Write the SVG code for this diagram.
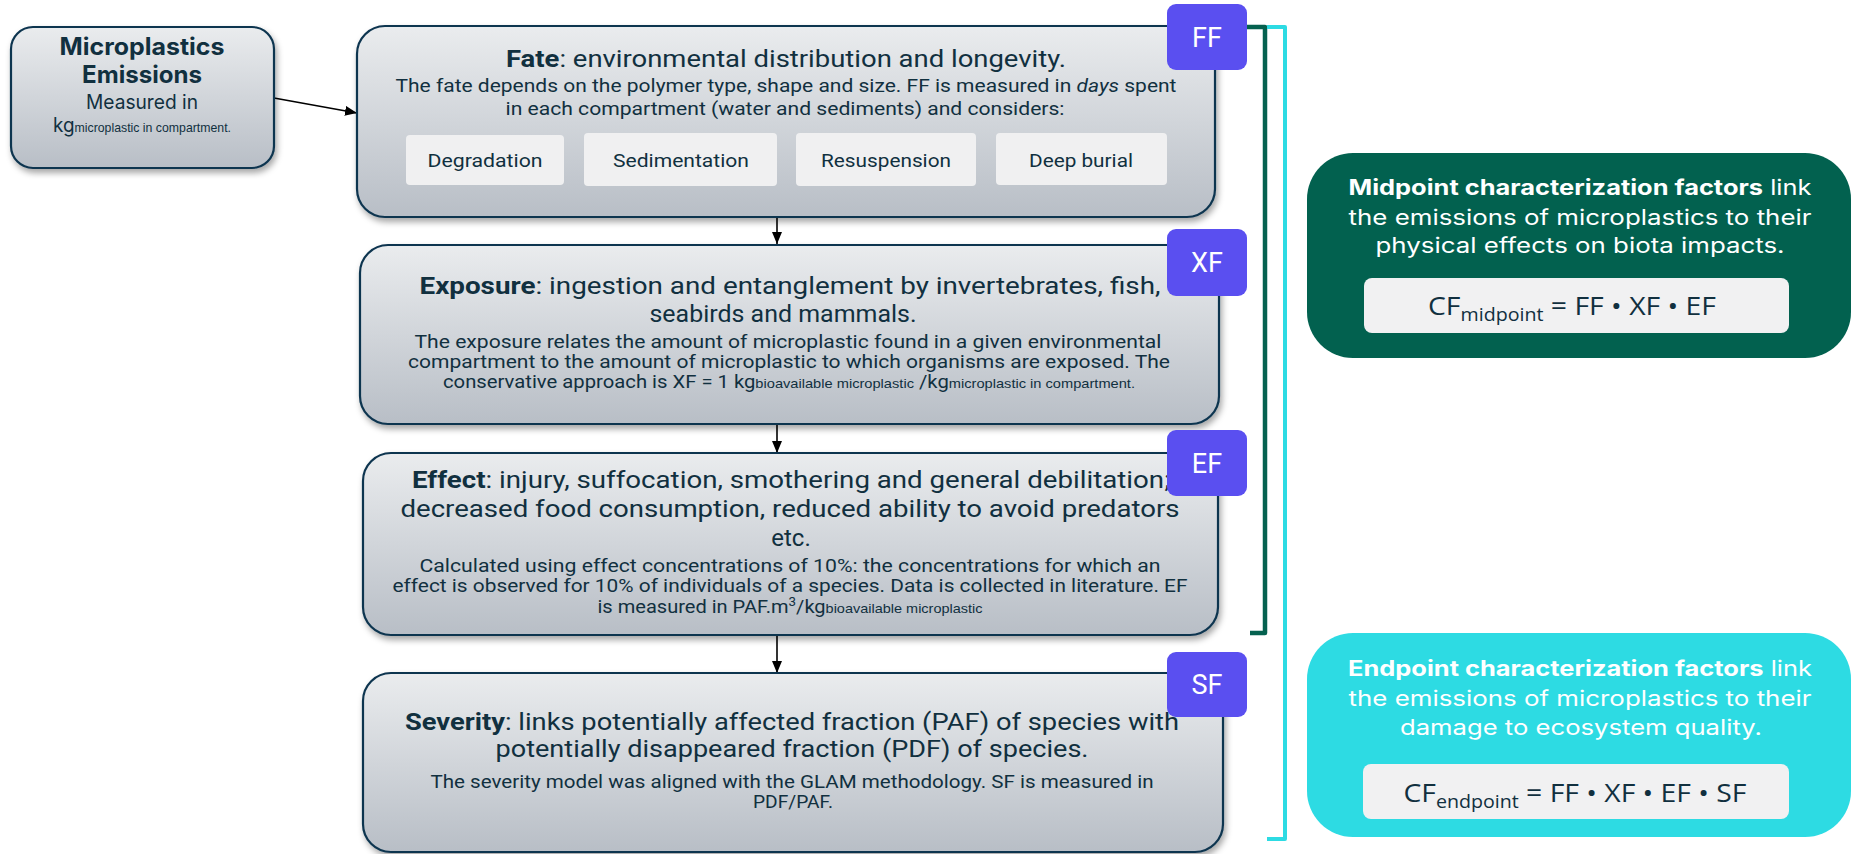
<svg xmlns="http://www.w3.org/2000/svg" width="1852" height="854" viewBox="0 0 1852 854">
<style>
.box{fill:url(#g);stroke:#0e3550;stroke-width:2.2;filter:url(#sh)}
.badge{fill:#5a4ff0}
.btxt{font-family:Roboto,"Liberation Sans",sans-serif;font-size:27px;fill:#fff;text-anchor:middle}
.t{font-family:Roboto,"Liberation Sans",sans-serif;fill:#11303f;text-anchor:middle}
.ti{font-size:24px}
.bd{font-size:18px}
.sub{font-family:"Liberation Sans",Arial,sans-serif;font-size:13px}
.chip{fill:#f0f0f1}
.w{font-family:Inter,"Liberation Sans",sans-serif;font-size:21px;fill:#fff;text-anchor:middle}
.f{font-family:"Open Sans",Roboto,sans-serif;font-size:26px;fill:#11303f;text-anchor:middle}
.em{font-family:Inter,"Liberation Sans",sans-serif;fill:#11303f;text-anchor:middle}
.conn{stroke:#000;stroke-width:1.6;fill:none;marker-end:url(#ah)}
</style>
<defs>
<linearGradient id="g" x1="0" y1="0" x2="0" y2="1">
<stop offset="0" stop-color="#eaecee"/>
<stop offset="1" stop-color="#b8bec6"/>
</linearGradient>
<filter id="sh" x="-5%" y="-10%" width="110%" height="125%">
<feDropShadow dx="2" dy="4" stdDeviation="3" flood-color="#000" flood-opacity="0.35"/>
</filter>
<marker id="ah" viewBox="0 0 12 10" refX="12" refY="5" markerWidth="12" markerHeight="10" markerUnits="userSpaceOnUse" orient="auto">
<path d="M0,0 L12,5 L0,10 z" fill="#000"/>
</marker>
</defs>

<g id="connectors">
<line class="conn" x1="274" y1="98" x2="357" y2="113"/>
<line class="conn" x1="777" y1="217" x2="777" y2="244"/>
<line class="conn" x1="777" y1="424" x2="777" y2="453"/>
<line class="conn" x1="777" y1="635" x2="777" y2="673"/>
<path d="M1247,27 H1265 V633 H1250" fill="none" stroke="#05614f" stroke-width="4.5" stroke-linejoin="round"/>
<path d="M1267,27 H1285 V839 H1267" fill="none" stroke="#2ddbe3" stroke-width="4" stroke-linejoin="round"/>
</g>

<g id="emissions">
<rect class="box" x="11" y="27" width="263" height="141" rx="22"/>
<text class="em" x="142" y="55" font-size="24" font-weight="bold" textLength="165" lengthAdjust="spacingAndGlyphs">Microplastics</text>
<text class="em" x="142" y="83" font-size="24" font-weight="bold" textLength="120" lengthAdjust="spacingAndGlyphs">Emissions</text>
<text class="em" x="142" y="109" font-size="20" textLength="112" lengthAdjust="spacingAndGlyphs">Measured in</text>
<text class="em" x="142" y="132" font-size="20" textLength="178" lengthAdjust="spacingAndGlyphs">kg<tspan class="sub">microplastic in compartment.</tspan></text>
</g>

<g id="fate">
<rect class="box" x="357" y="26" width="858" height="191" rx="28"/>
<text class="t ti" x="786" y="67" textLength="560" lengthAdjust="spacingAndGlyphs"><tspan font-weight="bold">Fate</tspan>: environmental distribution and longevity.</text>
<text class="t bd" x="786" y="92" textLength="781" lengthAdjust="spacingAndGlyphs">The fate depends on the polymer type, shape and size. FF is measured in <tspan font-style="italic">days</tspan> spent</text>
<text class="t bd" x="785" y="115" textLength="559" lengthAdjust="spacingAndGlyphs">in each compartment (water and sediments) and considers:</text>
<rect class="chip" x="406" y="135" width="158" height="50" rx="4"/>
<rect class="chip" x="584" y="133" width="193" height="53" rx="4"/>
<rect class="chip" x="796" y="133" width="180" height="53" rx="4"/>
<rect class="chip" x="996" y="133" width="171" height="52" rx="4"/>
<text class="t bd" x="485" y="167" textLength="115" lengthAdjust="spacingAndGlyphs">Degradation</text>
<text class="t bd" x="681" y="167" textLength="136" lengthAdjust="spacingAndGlyphs">Sedimentation</text>
<text class="t bd" x="886" y="167" textLength="130" lengthAdjust="spacingAndGlyphs">Resuspension</text>
<text class="t bd" x="1081" y="167" textLength="104" lengthAdjust="spacingAndGlyphs">Deep burial</text>
</g>
<g id="ff">
<rect class="badge" x="1167" y="4" width="80" height="66" rx="9"/>
<text class="btxt" x="1207" y="47">FF</text>
</g>

<g id="exposure">
<rect class="box" x="360" y="245" width="859" height="179" rx="28"/>
<text class="t ti" x="790" y="294" textLength="741" lengthAdjust="spacingAndGlyphs"><tspan font-weight="bold">Exposure</tspan>: ingestion and entanglement by invertebrates, fish,</text>
<text class="t ti" x="783" y="322" textLength="267" lengthAdjust="spacingAndGlyphs">seabirds and mammals.</text>
<text class="t bd" x="788" y="348" textLength="747" lengthAdjust="spacingAndGlyphs">The exposure relates the amount of microplastic found in a given environmental</text>
<text class="t bd" x="789" y="368" textLength="762" lengthAdjust="spacingAndGlyphs">compartment to the amount of microplastic to which organisms are exposed. The</text>
<text class="t bd" x="789" y="388" textLength="692" lengthAdjust="spacingAndGlyphs">conservative approach is XF = 1 kg<tspan class="sub">bioavailable microplastic</tspan> /kg<tspan class="sub">microplastic in compartment.</tspan></text>
</g>
<g id="xf">
<rect class="badge" x="1167" y="229" width="80" height="67" rx="9"/>
<text class="btxt" x="1207" y="272">XF</text>
</g>

<g id="effect">
<rect class="box" x="363" y="453" width="855" height="182" rx="28"/>
<text class="t ti" x="791" y="488" textLength="758" lengthAdjust="spacingAndGlyphs"><tspan font-weight="bold">Effect</tspan>: injury, suffocation, smothering and general debilitation;</text>
<text class="t ti" x="790" y="517" textLength="779" lengthAdjust="spacingAndGlyphs">decreased food consumption, reduced ability to avoid predators</text>
<text class="t ti" x="791" y="546">etc.</text>
<text class="t bd" x="790" y="572" textLength="741" lengthAdjust="spacingAndGlyphs">Calculated using effect concentrations of 10%: the concentrations for which an</text>
<text class="t bd" x="790" y="592" textLength="795" lengthAdjust="spacingAndGlyphs">effect is observed for 10% of individuals of a species. Data is collected in literature. EF</text>
<text class="t bd" x="790" y="613" textLength="385" lengthAdjust="spacingAndGlyphs">is measured in PAF.m<tspan font-size="12" dy="-7">3</tspan><tspan dy="7">/kg</tspan><tspan class="sub">bioavailable microplastic</tspan></text>
</g>
<g id="ef">
<rect class="badge" x="1167" y="430" width="80" height="66" rx="9"/>
<text class="btxt" x="1207" y="473">EF</text>
</g>

<g id="severity">
<rect class="box" x="363" y="673" width="860" height="179" rx="28"/>
<text class="t" font-size="23" x="792" y="730" textLength="774" lengthAdjust="spacingAndGlyphs"><tspan font-weight="bold">Severity</tspan>: links potentially affected fraction (PAF) of species with</text>
<text class="t" font-size="23" x="792" y="757" textLength="593" lengthAdjust="spacingAndGlyphs">potentially disappeared fraction (PDF) of species.</text>
<text class="t bd" x="792" y="788" textLength="723" lengthAdjust="spacingAndGlyphs">The severity model was aligned with the GLAM methodology. SF is measured in</text>
<text class="t bd" x="793" y="808" textLength="80" lengthAdjust="spacingAndGlyphs">PDF/PAF.</text>
</g>
<g id="sf">
<rect class="badge" x="1167" y="652" width="80" height="65" rx="9"/>
<text class="btxt" x="1207" y="694">SF</text>
</g>

<g id="midpoint">
<rect x="1307" y="153" width="544" height="205" rx="46" fill="#02614f"/>
<text class="w" x="1580" y="195" textLength="463" lengthAdjust="spacingAndGlyphs"><tspan font-weight="bold">Midpoint characterization factors</tspan> link</text>
<text class="w" x="1580" y="225" textLength="463" lengthAdjust="spacingAndGlyphs">the emissions of microplastics to their</text>
<text class="w" x="1580" y="253" textLength="409" lengthAdjust="spacingAndGlyphs">physical effects on biota impacts.</text>
<rect x="1364" y="278" width="425" height="55" rx="8" fill="#f1f1f2"/>
<text class="f" x="1572" y="315" textLength="288" lengthAdjust="spacingAndGlyphs">CF<tspan font-size="18" dy="6">midpoint</tspan><tspan dy="-6"> = FF • XF • EF</tspan></text>
</g>

<g id="endpoint">
<rect x="1307" y="633" width="544" height="204" rx="46" fill="#2ddbe3"/>
<text class="w" x="1580" y="676" textLength="464" lengthAdjust="spacingAndGlyphs"><tspan font-weight="bold">Endpoint characterization factors</tspan> link</text>
<text class="w" x="1580" y="706" textLength="463" lengthAdjust="spacingAndGlyphs">the emissions of microplastics to their</text>
<text class="w" x="1581" y="735" textLength="362" lengthAdjust="spacingAndGlyphs">damage to ecosystem quality.</text>
<rect x="1363" y="764" width="426" height="55" rx="8" fill="#f1f1f2"/>
<text class="f" x="1575" y="802" textLength="343" lengthAdjust="spacingAndGlyphs">CF<tspan font-size="18" dy="6">endpoint</tspan><tspan dy="-6"> = FF • XF • EF • SF</tspan></text>
</g>
</svg>
